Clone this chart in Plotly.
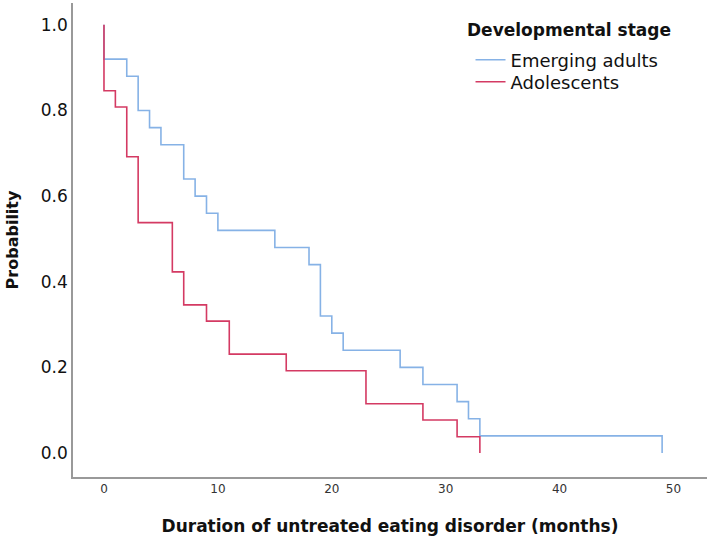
import plotly.graph_objects as go

# Kaplan-Meier style step data (months, survival probability)
emerging_time = [0, 0, 2, 3, 4, 5, 7, 8, 9, 10, 15, 18, 19, 20, 21, 26, 28, 31, 32, 33, 49]
emerging_prob = [1.0, 0.92, 0.88, 0.80, 0.76, 0.72, 0.64, 0.60, 0.56, 0.52, 0.48, 0.44,
                 0.32, 0.28, 0.24, 0.20, 0.16, 0.12, 0.08, 0.04, 0.0]

adolescent_time = [0, 0, 1, 2, 3, 6, 7, 9, 11, 16, 23, 28, 31, 33]
adolescent_prob = [1.0, 0.846, 0.808, 0.692, 0.538, 0.423, 0.346, 0.308, 0.231, 0.192,
                   0.115, 0.077, 0.038, 0.0]

x_ticks = [0, 10, 20, 30, 40, 50]
y_ticks = [0.0, 0.2, 0.4, 0.6, 0.8, 1.0]

BLUE = "#86B2E6"
RED = "#D43A63"
FONT = "DejaVu Sans"

fig = go.Figure()
fig.add_trace(go.Scatter(x=emerging_time, y=emerging_prob, mode="lines",
                         line=dict(color=BLUE, width=1.6, shape="hv"),
                         name="Emerging adults", legend="legend"))
fig.add_trace(go.Scatter(x=adolescent_time, y=adolescent_prob, mode="lines",
                         line=dict(color=RED, width=1.6, shape="hv"),
                         name="Adolescents", legend="legend2"))

leg_common = dict(xanchor="left", yanchor="middle", bgcolor="rgba(0,0,0,0)",
                  borderwidth=0, font=dict(size=18, color="#111"), itemwidth=30)

fig.update_layout(
    width=709, height=538,
    margin=dict(l=73, r=2, t=3, b=61),
    paper_bgcolor="white", plot_bgcolor="white",
    font=dict(family=FONT, color="#111"),
    showlegend=True,
    legend=dict(x=0.627, y=0.8797, **leg_common),
    legend2=dict(x=0.627, y=0.8333, **leg_common),
    annotations=[dict(
        text="<b>Developmental stage</b>", xref="paper", yref="paper",
        x=0.618, y=0.944, xanchor="left", yanchor="middle", showarrow=False,
        font=dict(size=17, color="#111"),
    )],
)
fig.update_xaxes(
    range=[-2.72, 52.94], tickvals=x_ticks, ticktext=[str(v) for v in x_ticks],
    showgrid=False, zeroline=False, showline=True, linecolor="#999", linewidth=1.5,
    ticks="", tickfont=dict(size=12, color="#333"),
    title=dict(text="<b>Duration of untreated eating disorder (months)</b>",
               font=dict(size=17, color="#111"), standoff=25),
)
fig.update_yaxes(
    range=[-0.056, 1.051], tickvals=y_ticks, ticktext=[f"{v:.1f}" for v in y_ticks],
    showgrid=False, zeroline=False, showline=True, linecolor="#999", linewidth=1.5,
    ticks="", tickfont=dict(size=17, color="#111"),
    title=dict(text="<b>Probability</b>", font=dict(size=16, color="#111"), standoff=18),
)

fig.write_html("out.html")
